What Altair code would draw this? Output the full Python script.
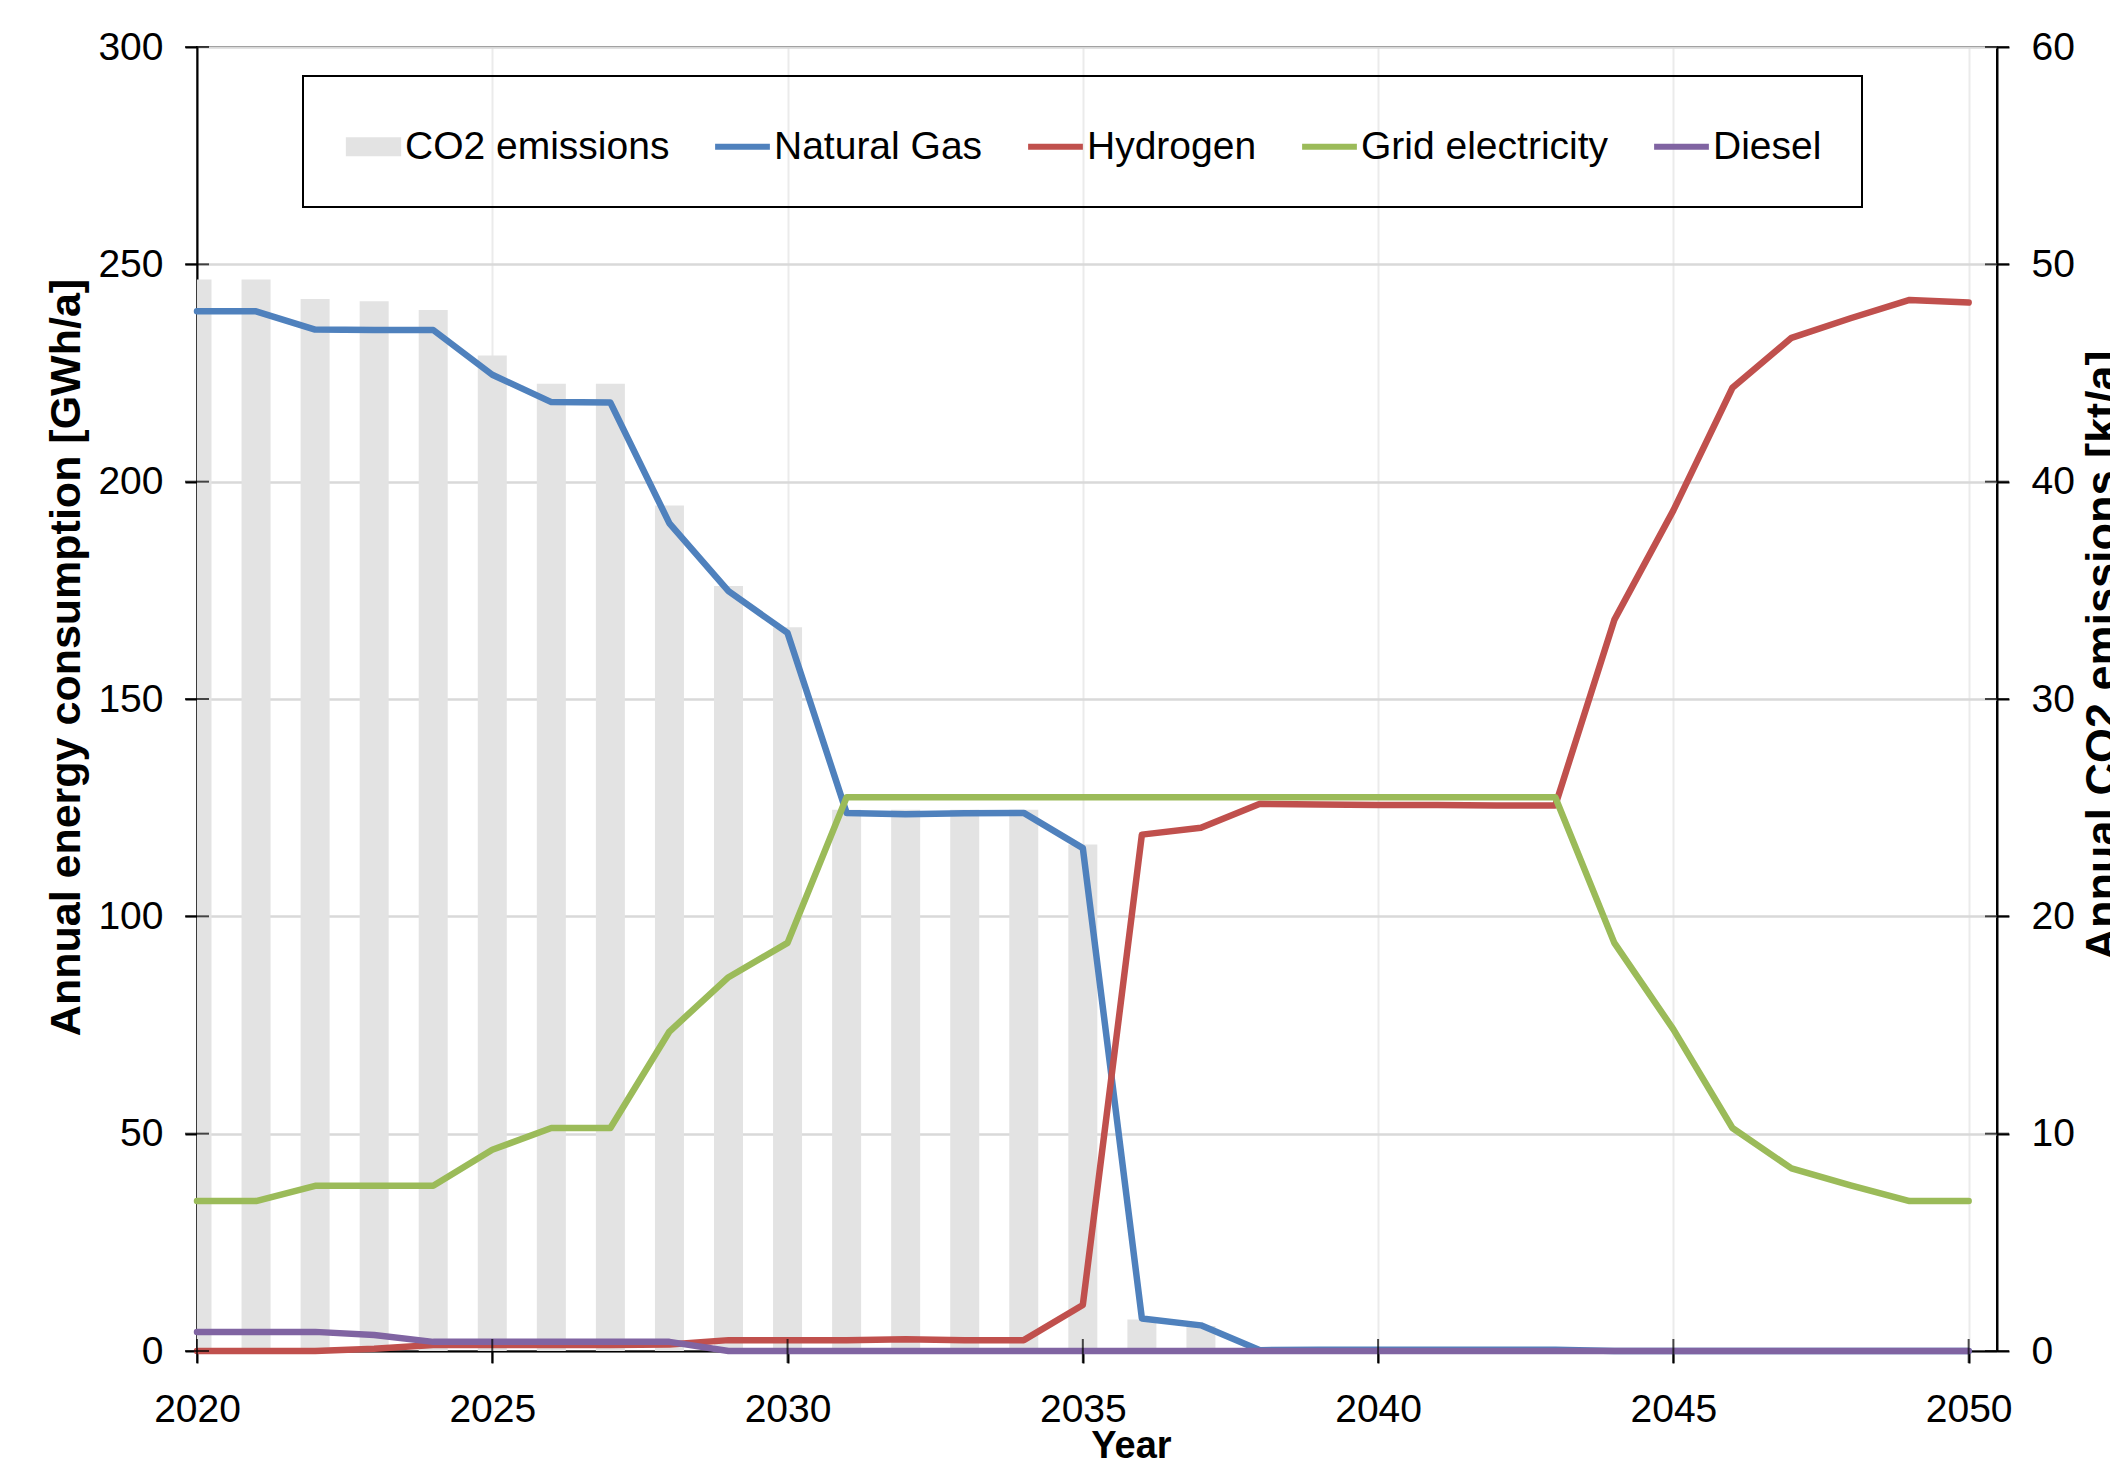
import altair as alt
import pandas as pd

# ---------------- data ----------------
years = list(range(2020, 2051))

natural_gas = [239.2, 239.2, 235.0, 234.9, 234.9, 224.6, 218.3, 218.2, 190.4, 174.8, 165.2,
               123.8, 123.5, 123.7, 123.8, 115.7, 7.5, 5.9, 0.2, 0.3, 0.3, 0.3, 0.3, 0.3,
               0.0, 0.0, 0.0, 0.0, 0.0, 0.0, 0.0]
hydrogen = [0.0, 0.0, 0.0, 0.5, 1.4, 1.4, 1.4, 1.4, 1.5, 2.5, 2.5,
            2.5, 2.7, 2.5, 2.5, 10.6, 118.8, 120.4, 125.9, 125.7, 125.6, 125.6, 125.5, 125.5,
            168.2, 193.4, 221.6, 233.1, 237.6, 241.8, 241.2]
grid_electricity = [34.5, 34.5, 38.0, 38.0, 38.0, 46.3, 51.3, 51.3, 73.5, 86.0, 93.9,
                    127.4, 127.4, 127.4, 127.4, 127.4, 127.4, 127.4, 127.4, 127.4, 127.4, 127.4, 127.4, 127.4,
                    93.9, 74.0, 51.3, 42.0, 38.1, 34.5, 34.5]
diesel = [4.4, 4.4, 4.4, 3.7, 2.1, 2.1, 2.1, 2.1, 2.1, 0.0, 0.0,
          0.0, 0.0, 0.0, 0.0, 0.0, 0.0, 0.0, 0.0, 0.0, 0.0, 0.0, 0.0, 0.0,
          0.0, 0.0, 0.0, 0.0, 0.0, 0.0, 0.0]
co2_emissions = [49.3, 49.3, 48.4, 48.3, 47.9, 45.8, 44.5, 44.5, 38.9, 35.2, 33.3,
                 24.9, 24.9, 24.9, 24.9, 23.3, 1.45, 1.15, 0, 0, 0, 0, 0, 0,
                 0, 0, 0, 0, 0, 0, 0]

series_names = ["CO2 emissions", "Natural Gas", "Hydrogen", "Grid electricity", "Diesel"]
series_colors = ["#e3e3e3", "#4f81bd", "#c0504d", "#9bbb59", "#8064a2"]

x_tick_values = [2020, 2025, 2030, 2035, 2040, 2045, 2050]
left_tick_values = [0, 50, 100, 150, 200, 250, 300]
right_tick_values = [0, 10, 20, 30, 40, 50, 60]

# ---------------- tables ----------------
line_rows = []
for name, vals in [("Natural Gas", natural_gas), ("Hydrogen", hydrogen),
                   ("Grid electricity", grid_electricity), ("Diesel", diesel)]:
    for y, v in zip(years, vals):
        line_rows.append({"year": y, "value": v, "series": name})
lines_df = pd.DataFrame(line_rows)
bars_df = pd.DataFrame({"year": years, "co2": co2_emissions, "series": "CO2 emissions"})

FONT = "Liberation Sans, Arial, Helvetica, sans-serif"
X_MAX = 2050.48

xscale = alt.Scale(domain=[2020, X_MAX], nice=False, zero=False, padding=0)
yleft = alt.Scale(domain=[0, 300], nice=False, padding=0)
yright = alt.Scale(domain=[0, 60], nice=False, padding=0)
color_scale = alt.Scale(domain=series_names, range=series_colors)

first = series_names[0]
legend = alt.Legend(
    title=None, orient="none", legendX=106, legendY=29, direction="horizontal",
    labelFont=FONT, labelFontSize=39, labelColor="black", labelOffset=1, labelLimit=0,
    columnPadding=33, padding=40, symbolSize=3000, strokeColor="black",
    symbolType={"expr": "datum.value === '%s' ? 'M-0.9,-0.24H0.9V0.24H-0.9Z' : 'stroke'" % first},
    symbolFillColor={"expr": "datum.value === '%s' ? '%s' : 'transparent'" % (first, series_colors[0])},
    symbolStrokeWidth=6,
    symbolOpacity=1,
)

x_axis = alt.Axis(values=x_tick_values, format="d", title="Year", labelFontSize=39,
                  labelPadding=27, labelFlush=False, labelOverlap=False,
                  titleFontSize=38, titleFontWeight="bold", titleX=934, titleY=76,
                  titleBaseline="top", grid=True, gridColor="#ebebeb", gridWidth=2)
left_axis = alt.Axis(values=left_tick_values, orient="left",
                     title="Annual energy consumption [GWh/a]", labelFontSize=39,
                     labelPadding=22, labelOverlap=False, titleFontSize=43,
                     titleFontWeight="bold", titleAngle=270, titleBaseline="bottom",
                     titlePadding=9, titleY=610, grid=True, gridColor="#d9d9d9", gridWidth=2.5)
right_axis = alt.Axis(values=right_tick_values, orient="right",
                      title="Annual CO2 emissions [kt/a]", labelFontSize=39,
                      labelPadding=22, labelOverlap=False, titleFontSize=45,
                      titleFontWeight="bold", titleAngle=270, titleBaseline="top",
                      titlePadding=6, titleY=608, grid=False)

bars = alt.Chart(bars_df).mark_bar(size=29, clip=True, orient="vertical").encode(
    x=alt.X("year:Q", scale=xscale, axis=x_axis),
    y=alt.Y("co2:Q", scale=yright, axis=right_axis),
    color=alt.Color("series:N", scale=color_scale, legend=legend),
)
right_ticks = alt.Chart(pd.DataFrame({"v": right_tick_values})).mark_tick(
    orient="horizontal", size=24, thickness=2, color="black").encode(
    x=alt.XDatum(X_MAX, scale=xscale, axis=x_axis),
    y=alt.Y("v:Q", scale=yright, axis=right_axis),
)
right_layer = alt.layer(bars, right_ticks)

lines = alt.Chart(lines_df).mark_line(strokeWidth=6.5, strokeJoin="round", strokeCap="round").encode(
    x=alt.X("year:Q", scale=xscale, axis=x_axis),
    y=alt.Y("value:Q", scale=yleft, axis=left_axis),
    color=alt.Color("series:N", scale=color_scale, legend=legend),
    detail="series:N",
)
left_ticks = alt.Chart(pd.DataFrame({"v": left_tick_values})).mark_tick(
    orient="horizontal", size=24, thickness=2, color="black").encode(
    x=alt.XDatum(2020, scale=xscale, axis=x_axis),
    y=alt.Y("v:Q", scale=yleft, axis=left_axis),
)
x_ticks = alt.Chart(pd.DataFrame({"t": x_tick_values})).mark_tick(
    orient="vertical", size=24, thickness=2, color="black").encode(
    x=alt.X("t:Q", scale=xscale, axis=x_axis),
    y=alt.YDatum(0, scale=yleft, axis=left_axis),
)
left_layer = alt.layer(lines, left_ticks, x_ticks)

chart = alt.layer(right_layer, left_layer).resolve_scale(y="independent").properties(
    width=1800, height=1304,
    autosize=alt.AutoSizeParams(type="none"),
    padding={"left": 189, "top": 39, "right": 113, "bottom": 115},
    background="white",
).configure_view(stroke="black", strokeWidth=2).configure_axis(
    labelFont=FONT, titleFont=FONT, labelColor="black", titleColor="black",
    domainColor="black", domainWidth=2, tickColor="black", tickWidth=2, tickSize=12,
).configure_legend(strokeWidth=2)

chart.save("out.html", embed_options={"renderer": "svg", "actions": False})
